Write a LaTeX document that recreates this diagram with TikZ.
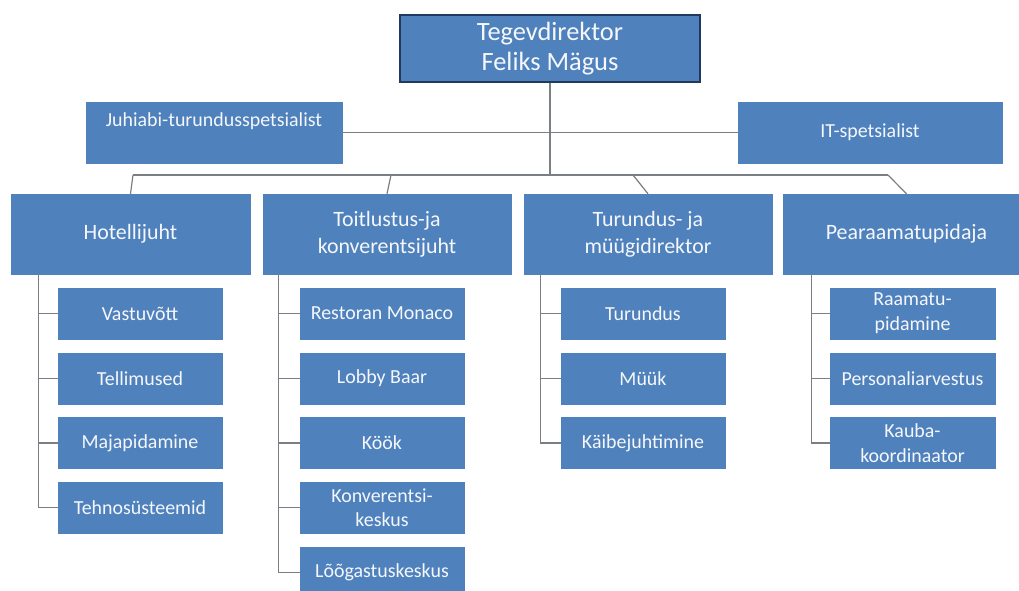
\documentclass[tikz,border=0pt]{standalone}
\usepackage{fontspec}
\setmainfont{Carlito}
\usetikzlibrary{calc}

\definecolor{boxblue}{HTML}{4F81BD}
\definecolor{navy}{HTML}{1F3A5C}
\definecolor{linkgray}{HTML}{7A7F86}

\tikzset{
    unit/.style={fill=boxblue, draw=boxblue, text=white!94!boxblue, align=center, inner sep=0pt},
    chief/.style={unit, draw=navy, line width=1.6bp, minimum width=300bp, minimum height=67bp,
        font=\fontsize{26.5}{29.5}\selectfont},
    staff/.style={unit, minimum height=61bp, font=\fontsize{20}{24}\selectfont},
    head/.style={unit, minimum height=80bp, font=\fontsize{22}{27}\selectfont},
    sub/.style={unit, minimum width=164bp, minimum height=51bp, font=\fontsize{20}{25}\selectfont},
    link/.style={draw=linkgray, line width=1.2bp},
}

\begin{document}
\begin{tikzpicture}[x=1bp, y=-1bp]
    \useasboundingbox (0,0) rectangle (1019,591);
    \clip (0,0) rectangle (1019,591);

    % director and staff
    \node[chief] (top) at (550,48.5) {Tegevdirektor\\Feliks Mägus};
    \node[staff, minimum width=256bp, text depth=26bp] (aide) at (214,132.5) {Juhiabi-turundusspetsialist};
    \node[staff, minimum width=264bp] (it) at (870,132.5) {IT-spetsialist};
    \draw[link] (aide.east) -- (it.west);

    % department heads
    \foreach \n/\x/\w/\t in {hot/130.5/239/Hotellijuht, toit/387/248/{Toitlustus-ja\\konverentsijuht},
            tur/648/248/{Turundus-\ ja\\müügidirektor}, pear/906.5/247/Pearaamatupidaja}{
        \node[head, minimum width=\w bp] (\n) at (\x,234) {\t};
    }
    \foreach \i/\x in {1/133, 2/391, 3/633, 4/888}{
        \coordinate (b\i) at (\x,175);
    }
    \draw[link] (top.south) -- (top.south |- b1);
    \draw[link] (b1) -- (b4);
    \foreach \i/\n in {1/hot, 2/toit, 3/tur, 4/pear}{
        \draw[link] (b\i) -- (\n.north);
    }

    % units
    \foreach \t [count=\i] in {Vastuvõtt, Tellimused, Majapidamine, Tehnosüsteemid}{
        \node[sub] (hot\i) at (140,{248.75+64.75*\i}) {\t};
        \draw[link] ($(hot.south -| hot1.west)+(-19,0)$) |- (hot\i.west);
    }
    \foreach \t [count=\i] in {Restoran Monaco, Lobby Baar, Köök, {Konverentsi-\\keskus}, Lõõgastuskeskus}{
        \node[sub] (toit\i) at (382,{248.75+64.75*\i}) {\t};
        \draw[link] ($(toit.south -| toit1.west)+(-21,0)$) |- (toit\i.west);
    }
    \foreach \t [count=\i] in {Turundus, Müük, Käibejuhtimine}{
        \node[sub] (tur\i) at (643,{248.75+64.75*\i}) {\t};
        \draw[link] ($(tur.south -| tur1.west)+(-20,0)$) |- (tur\i.west);
    }
    \foreach \t [count=\i] in {{Raamatu-\\pidamine}, Personaliarvestus, {Kauba-\\koordinaator}}{
        \node[sub, minimum width=165bp] (pear\i) at (912.5,{248.75+64.75*\i}) {\t};
        \draw[link] ($(pear.south -| pear1.west)+(-18,0)$) |- (pear\i.west);
    }
\end{tikzpicture}
\end{document}
